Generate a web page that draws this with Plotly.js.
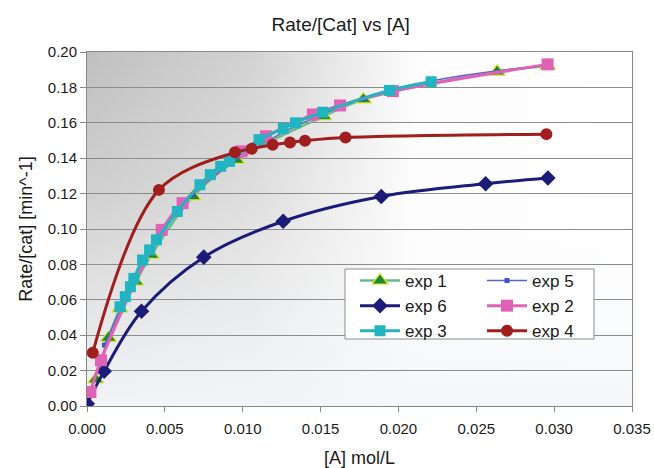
<!DOCTYPE html>
<html>
<head>
<meta charset="utf-8">
<script src="https://cdn.plot.ly/plotly-3.0.1.min.js"></script>
<style>html,body{margin:0;padding:0;background:#fff;}#chart{width:654px;height:468px;}</style>
</head>
<body>
<div id="chart"></div>
<script>
// Data
const exp1X = [0.00056, 0.00138, 0.00212, 0.00313, 0.00413, 0.00681, 0.0096, 0.0152, 0.01775, 0.02634, 0.02958];
const exp1Y = [0.0150, 0.0385, 0.0551, 0.0703, 0.0854, 0.1184, 0.1390, 0.1637, 0.1732, 0.1889, 0.1921];

const exp5X = [0.00112, 0.0068, 0.01775, 0.02958];
const exp5Y = [0.0344, 0.1195, 0.1738, 0.1925];

const exp6X = [0.00002, 0.0011, 0.0035, 0.0075, 0.0126, 0.0189, 0.0256, 0.0296];
const exp6Y = [0.0013, 0.0197, 0.0535, 0.0841, 0.1044, 0.1184, 0.1256, 0.1288];

const exp2X = [0.00022, 0.0009, 0.0048, 0.00614, 0.00993, 0.0115, 0.01451, 0.01625, 0.01964, 0.02958];
const exp2Y = [0.0079, 0.0259, 0.0995, 0.1146, 0.1439, 0.1524, 0.1647, 0.1698, 0.1779, 0.1930];

const exp3X = [0.00212, 0.00246, 0.00279, 0.00301, 0.00357, 0.00402, 0.00446, 0.0058, 0.00725, 0.00792, 0.00859, 0.00915, 0.01105, 0.01261, 0.01339, 0.01513, 0.01942, 0.0221];
const exp3Y = [0.0561, 0.0618, 0.0674, 0.0721, 0.0825, 0.0882, 0.0939, 0.1099, 0.1250, 0.1307, 0.1354, 0.1382, 0.1505, 0.1568, 0.1600, 0.1660, 0.1783, 0.1832];

const exp4X = [0.00037, 0.00462, 0.0095, 0.01058, 0.01192, 0.01304, 0.0140, 0.0166, 0.0295];
const exp4Y = [0.0301, 0.1221, 0.1433, 0.1453, 0.1476, 0.1489, 0.1499, 0.1517, 0.1536];

const font = 'Arial, "Liberation Sans", sans-serif';

function tr(name, x, y, lineColor, lineWidth, symbol, size, fill, outline, outlineW, legendId) {
  return {
    type: 'scatter', mode: 'lines+markers', name: name, x: x, y: y, legend: legendId,
    line: {color: lineColor, width: lineWidth, shape: 'spline', smoothing: 1},
    marker: {symbol: symbol, size: size, color: fill, line: {color: outline, width: outlineW}}
  };
}

const traces = [
  tr('exp 1', exp1X, exp1Y, '#6cbb86', 2.5, 'triangle-up', 14, '#1c8a2c', '#e2e23a', 1.2, 'legend'),
  tr('exp 5', exp5X, exp5Y, '#5566c4', 1.5, 'square', 5, '#3f55c0', '#3f55c0', 0, 'legend2'),
  tr('exp 6', exp6X, exp6Y, '#1c1c78', 3, 'diamond', 12, '#1c1c78', '#1c1c78', 0, 'legend'),
  tr('exp 2', exp2X, exp2Y, '#e062b6', 3, 'square', 12, '#e062b6', '#e062b6', 0, 'legend2'),
  tr('exp 3', exp3X, exp3Y, '#22b4c0', 3, 'square', 11, '#22b4c0', '#22b4c0', 0, 'legend'),
  tr('exp 4', exp4X, exp4Y, '#a01e1e', 3, 'circle', 12, '#a01e1e', '#a01e1e', 0, 'legend2')
];

const svg = '<svg xmlns="http://www.w3.org/2000/svg" width="545" height="354" viewBox="0 0 545 354" preserveAspectRatio="none">' +
  '<defs>' +
  '<linearGradient id="h" x1="0" y1="0" x2="1" y2="0">' +
  '<stop offset="0" stop-color="#c0c0c0"/><stop offset="0.3" stop-color="#d2d2d2"/><stop offset="0.6" stop-color="#fcfcfc"/><stop offset="1" stop-color="#ffffff"/></linearGradient>' +
  '<linearGradient id="v" x1="0" y1="0" x2="0" y2="1">' +
  '<stop offset="0" stop-color="#ffffff" stop-opacity="0"/><stop offset="0.4" stop-color="#ffffff" stop-opacity="0.25"/><stop offset="1" stop-color="#f4f6fa" stop-opacity="0.95"/></linearGradient>' +
  '</defs>' +
  '<rect x="0" y="0" width="545" height="354" fill="url(#h)"/>' +
  '<rect x="0" y="0" width="545" height="354" fill="url(#v)"/>' +
  '</svg>';
const bgURI = 'data:image/svg+xml;charset=utf-8,' + encodeURIComponent(svg);

const legendFont = {family: font, size: 17, color: '#1a1a1a'};

const layout = {
  width: 654, height: 468,
  margin: {l: 87, r: 22, t: 52, b: 62, pad: 0},
  paper_bgcolor: '#ffffff',
  plot_bgcolor: 'rgba(0,0,0,0)',
  font: {family: font, color: '#1a1a1a'},
  title: {text: 'Rate/[Cat] vs [A]', font: {family: font, size: 19, color: '#1a1a1a'},
          xref: 'container', x: 0.521, xanchor: 'center', yref: 'container', y: 0.948, yanchor: 'middle'},
  images: [{source: bgURI, xref: 'paper', yref: 'paper', x: 0, y: 1, sizex: 1, sizey: 1,
            sizing: 'stretch', layer: 'below', xanchor: 'left', yanchor: 'top'}],
  shapes: [{type: 'rect', xref: 'paper', yref: 'paper', layer: 'above',
            x0: (345 - 87) / 545, x1: (594 - 87) / 545, y0: (406 - 339) / 354, y1: (406 - 269) / 354,
            fillcolor: '#ffffff', line: {color: '#8c8c8c', width: 1}}],
  xaxis: {
    range: [0, 0.035], dtick: 0.005, tick0: 0, tickformat: '.3f',
    ticks: 'outside', ticklen: 5, tickcolor: '#888', tickwidth: 1,
    showgrid: false, zeroline: false, showline: true, linecolor: '#888', linewidth: 1, mirror: true,
    tickfont: {family: font, size: 15, color: '#1a1a1a'}, ticklabelstandoff: 4,
    title: {text: '[A] mol/L', font: {family: font, size: 18, color: '#1a1a1a'}, standoff: 16}
  },
  yaxis: {
    range: [0, 0.2], dtick: 0.02, tick0: 0, tickformat: '.2f',
    ticks: 'outside', ticklen: 6, tickcolor: '#888', tickwidth: 1,
    showgrid: true, gridcolor: '#8c8c8c', gridwidth: 1,
    zeroline: false, showline: true, linecolor: '#888', linewidth: 1, mirror: true,
    tickfont: {family: font, size: 15, color: '#1a1a1a'},
    title: {text: 'Rate/[cat] [min^-1]', font: {family: font, size: 18, color: '#1a1a1a'}, standoff: 10}
  },
  legend: {
    orientation: 'v', x: (355 - 87) / 545, y: (406 - 263) / 354, xanchor: 'left', yanchor: 'top',
    bgcolor: 'rgba(0,0,0,0)', borderwidth: 0, font: legendFont, itemwidth: 40, traceorder: 'normal'
  },
  legend2: {
    orientation: 'v', x: (482 - 87) / 545, y: (406 - 263) / 354, xanchor: 'left', yanchor: 'top',
    bgcolor: 'rgba(0,0,0,0)', borderwidth: 0, font: legendFont, itemwidth: 40, traceorder: 'normal'
  },
  showlegend: true
};

Plotly.newPlot('chart', traces, layout, {displayModeBar: false, staticPlot: true});
</script>
</body>
</html>
